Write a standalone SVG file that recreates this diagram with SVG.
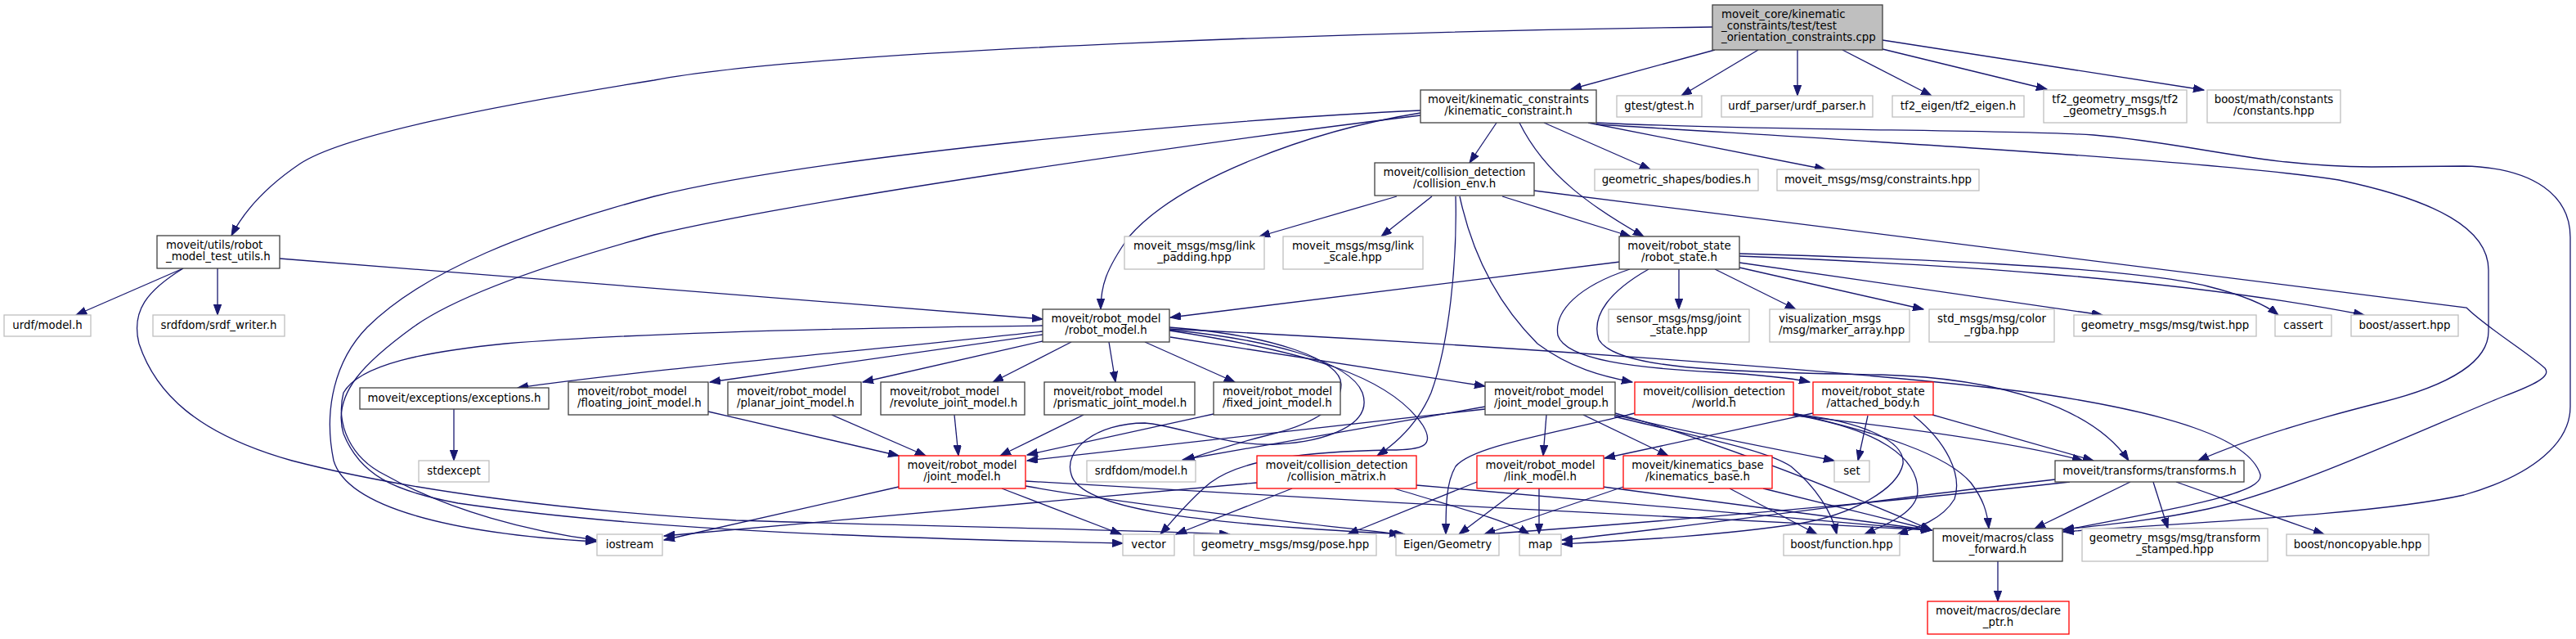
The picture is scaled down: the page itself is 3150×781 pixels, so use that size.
<svg xmlns="http://www.w3.org/2000/svg" width="3150" height="781" viewBox="0 0 3150 781">
<style>
.e{fill:none;stroke:#191970;stroke-width:1.3;marker-end:url(#ah)}
rect{stroke-width:1.3}
rect.n{fill:#fff;stroke:#404040}
rect.g{fill:#fff;stroke:#bfbfbf}
rect.r{fill:#fff;stroke:#ff0000}
rect.root{fill:#bfbfbf;stroke:#404040}
text{font-family:"DejaVu Sans",sans-serif;font-size:13.33px;fill:#000}
.c{text-anchor:middle}
</style>
<defs>
<marker id="ah" markerWidth="14" markerHeight="10" refX="13" refY="4.7" orient="auto" markerUnits="userSpaceOnUse"><path d="M0,0 L13,4.7 L0,9.4 z" fill="#191970" stroke="#191970" stroke-width="1"/></marker>
</defs>
<rect width="3150" height="781" fill="#fff"/>
<g id="edges">
<path class="e" d="M2097,61 L1921,109"/>
<path class="e" d="M2150,61 L2056,117"/>
<path class="e" d="M2198,61 L2198,117"/>
<path class="e" d="M2253,61 L2362,117"/>
<path class="e" d="M2302,60 L2503,109"/>
<path class="e" d="M2302,49 L2695,110"/>
<path class="e" d="M2094,33 C1700,38 1000,60 800,98 C600,130 420,165 367,200 C330,225 300,255 283,288"/>
<path class="e" d="M1830,150 L1797,199"/>
<path class="e" d="M1858,150 C1890,215 1950,255 2010,289"/>
<path class="e" d="M1888,150 L2018,207"/>
<path class="e" d="M1942,150 L2232,207"/>
<path class="e" d="M1952,152 C2200,168 2700,195 2860,220 C2980,245 3043,280 3043,330 L3043,405 C3043,440 3000,470 2911,492 C2820,515 2740,540 2688,563"/>
<path class="e" d="M1952,150 C2150,160 2450,158 2560,165 C2680,175 2760,203 2900,204 L3013,203 C3100,205 3143,240 3143,290 L3143,497 C3143,540 3100,580 3013,605 C2900,630 2650,640 2523,650"/>
<path class="e" d="M1737,138 C1600,160 1440,220 1380,290 C1352,330 1346,350 1346,378"/>
<path class="e" d="M1737,135 C1500,145 1000,190 800,240 C650,280 520,330 449,400 C410,440 395,500 408,563 C425,620 550,652 729,662"/>
<path class="e" d="M1737,141 C1500,170 1000,240 800,287 C680,320 560,360 505,400 C450,440 405,480 420,530 C440,580 480,600 560,615 C800,650 1100,658 1373,664"/>
<path class="e" d="M1708,240 L1540,289"/>
<path class="e" d="M1751,240 L1689,289"/>
<path class="e" d="M1837,240 L1994,289"/>
<path class="e" d="M1780,240 C1782,320 1772,420 1750,480 C1735,515 1710,540 1684,557"/>
<path class="e" d="M1785,240 C1800,310 1830,370 1880,420 C1920,450 1960,460 1996,467"/>
<path class="e" d="M1876,233 L3016,376 C3040,400 3090,430 3112,450 C3120,460 3100,470 3060,485 C2950,530 2800,600 2700,622 C2630,637 2570,642 2523,647"/>
<path class="e" d="M224,328 L93,385"/>
<path class="e" d="M266,328 L266,385"/>
<path class="e" d="M342,316 L1275,390"/>
<path class="e" d="M224,328 C180,355 160,380 170,420 C190,480 240,530 357,563 C500,600 700,625 900,636 C1200,645 1400,648 1504,653"/>
<path class="e" d="M1981,320 L1431,388"/>
<path class="e" d="M2053,329 L2053,378"/>
<path class="e" d="M2097,329 L2196,378"/>
<path class="e" d="M2127,327 L2352,378"/>
<path class="e" d="M2127,321 L2571,385"/>
<path class="e" d="M2127,310 C2300,315 2600,325 2700,350 C2740,360 2770,372 2786,385"/>
<path class="e" d="M2127,313 C2350,322 2650,338 2891,385"/>
<path class="e" d="M1993,329 C1930,350 1900,380 1905,410 C1915,440 2000,450 2100,455 C2150,458 2190,462 2213,467"/>
<path class="e" d="M2016,329 C1970,355 1945,385 1955,415 C1975,450 2100,455 2300,458 C2450,462 2560,500 2603,563"/>
<path class="e" d="M1275,405 C1100,425 800,450 633,474"/>
<path class="e" d="M1275,409 L868,467"/>
<path class="e" d="M1275,417 L1055,467"/>
<path class="e" d="M1310,418 L1214,467"/>
<path class="e" d="M1356,418 L1364,467"/>
<path class="e" d="M1400,418 L1510,467"/>
<path class="e" d="M1431,412 L1816,472"/>
<path class="e" d="M1275,398 C1100,400 800,405 618,420 C520,430 440,445 420,480 C410,520 430,560 470,580 C550,625 650,650 729,660"/>
<path class="e" d="M1430,402 C1800,420 2300,455 2500,482 C2650,505 2750,535 2764,580 C2768,600 2700,615 2523,648"/>
<path class="e" d="M1430,403 C1550,415 1650,440 1666,480 C1680,520 1620,540 1560,543 C1500,546 1440,520 1400,517 C1340,517 1300,550 1310,580 C1320,620 1450,640 1718,653"/>
<path class="e" d="M1430,404 C1600,430 1700,460 1740,520 C1755,545 1740,550 1700,550 C1600,552 1520,560 1480,590 C1455,610 1435,635 1419,653"/>
<path class="e" d="M1430,400 C1560,410 1640,440 1640,470 C1640,500 1600,520 1550,532 C1510,542 1480,552 1448,563"/>
<path class="e" d="M1891,507 L1887,557"/>
<path class="e" d="M1936,507 L2040,557"/>
<path class="e" d="M1974,507 C2050,525 2150,545 2243,563"/>
<path class="e" d="M1974,509 C2080,535 2160,550 2190,570 C2220,595 2240,625 2246,653"/>
<path class="e" d="M1816,500 L1256,563"/>
<path class="e" d="M1816,497 L1446,562"/>
<path class="e" d="M1975,505 C2100,540 2250,600 2362,648"/>
<path class="e" d="M1999,505 C1900,530 1800,545 1780,570 C1768,590 1768,620 1768,653"/>
<path class="e" d="M2193,506 C2280,515 2330,540 2327,567 C2320,600 2260,630 2200,640 C2100,655 2000,660 1910,665"/>
<path class="e" d="M2193,507 C2300,525 2345,560 2345,600 C2345,625 2310,640 2280,653"/>
<path class="e" d="M2187,507 C2350,525 2480,545 2547,563"/>
<path class="e" d="M2193,505 C2300,530 2380,555 2410,590 C2425,610 2430,625 2432,646"/>
<path class="e" d="M2217,505 L1962,560"/>
<path class="e" d="M2284,508 L2272,563"/>
<path class="e" d="M2340,508 C2380,540 2400,580 2390,610 C2375,635 2345,645 2320,653"/>
<path class="e" d="M2363,507 L2560,563"/>
<path class="e" d="M1858,597 L1784,653"/>
<path class="e" d="M1882,597 L1882,653"/>
<path class="e" d="M1960,595 L2362,648"/>
<path class="e" d="M1806,589 L1648,653"/>
<path class="e" d="M2115,597 L2222,653"/>
<path class="e" d="M2156,597 L2362,648"/>
<path class="e" d="M1985,595 L1815,653"/>
<path class="e" d="M1537,590 L812,655"/>
<path class="e" d="M1580,597 L1438,653"/>
<path class="e" d="M1705,597 C1780,620 1840,635 1870,653"/>
<path class="e" d="M1732,593 L2362,648"/>
<path class="e" d="M1099,595 L812,660"/>
<path class="e" d="M1225,597 L1371,653"/>
<path class="e" d="M1254,594 C1400,620 1600,640 1712,653"/>
<path class="e" d="M1254,588 C1600,610 2100,635 2362,648"/>
<path class="e" d="M866,503 L1099,557"/>
<path class="e" d="M1017,507 L1132,557"/>
<path class="e" d="M1167,507 L1172,557"/>
<path class="e" d="M1325,507 L1223,557"/>
<path class="e" d="M1484,506 L1256,556"/>
<path class="e" d="M555,500 L555,563"/>
<path class="e" d="M2605,589 L2488,646"/>
<path class="e" d="M2633,589 L2651,646"/>
<path class="e" d="M2661,589 L2842,653"/>
<path class="e" d="M2513,586 C2300,610 2100,640 1910,660"/>
<path class="e" d="M2531,589 C2300,615 2000,640 1815,653"/>
<path class="e" d="M2443,686 L2443,735"/>
</g>
<g id="n_root"><rect class="root" x="2094" y="6" width="208" height="55"/><text x="2105" y="22">moveit_core/kinematic</text><text x="2105" y="36">_constraints/test/test</text><text x="2105" y="50">_orientation_constraints.cpp</text></g>
<g id="n_kc"><rect class="n" x="1737" y="110" width="215" height="40"/><text class="c" x="1844.5" y="126">moveit/kinematic_constraints</text><text class="c" x="1844.5" y="140">/kinematic_constraint.h</text></g>
<g id="n_gtest"><rect class="g" x="1977" y="117" width="104" height="26"/><text class="c" x="2029" y="134">gtest/gtest.h</text></g>
<g id="n_urdfparser"><rect class="g" x="2105" y="117" width="185" height="26"/><text class="c" x="2197.5" y="134">urdf_parser/urdf_parser.h</text></g>
<g id="n_tf2eigen"><rect class="g" x="2314" y="117" width="161" height="26"/><text class="c" x="2394.5" y="134">tf2_eigen/tf2_eigen.h</text></g>
<g id="n_tf2geo"><rect class="g" x="2499" y="110" width="175" height="40"/><text class="c" x="2586.5" y="126">tf2_geometry_msgs/tf2</text><text class="c" x="2586.5" y="140">_geometry_msgs.h</text></g>
<g id="n_boostmath"><rect class="g" x="2699" y="110" width="163" height="40"/><text class="c" x="2780.5" y="126">boost/math/constants</text><text class="c" x="2780.5" y="140">/constants.hpp</text></g>
<g id="n_collenv"><rect class="n" x="1681" y="199" width="195" height="40"/><text class="c" x="1778.5" y="215">moveit/collision_detection</text><text class="c" x="1778.5" y="229">/collision_env.h</text></g>
<g id="n_bodies"><rect class="g" x="1950" y="207" width="200" height="26"/><text class="c" x="2050" y="224">geometric_shapes/bodies.h</text></g>
<g id="n_constraints"><rect class="g" x="2173" y="207" width="247" height="26"/><text class="c" x="2296.5" y="224">moveit_msgs/msg/constraints.hpp</text></g>
<g id="n_rmtu"><rect class="n" x="192" y="288" width="150" height="40"/><text x="203" y="304">moveit/utils/robot</text><text x="203" y="318">_model_test_utils.h</text></g>
<g id="n_linkpadding"><rect class="g" x="1375" y="289" width="171" height="40"/><text class="c" x="1460.5" y="305">moveit_msgs/msg/link</text><text class="c" x="1460.5" y="319">_padding.hpp</text></g>
<g id="n_linkscale"><rect class="g" x="1569" y="289" width="171" height="40"/><text class="c" x="1654.5" y="305">moveit_msgs/msg/link</text><text class="c" x="1654.5" y="319">_scale.hpp</text></g>
<g id="n_robotstate"><rect class="n" x="1980" y="289" width="147" height="40"/><text class="c" x="2053.5" y="305">moveit/robot_state</text><text class="c" x="2053.5" y="319">/robot_state.h</text></g>
<g id="n_urdfmodel"><rect class="g" x="5" y="385" width="106" height="26"/><text class="c" x="58" y="402">urdf/model.h</text></g>
<g id="n_srdfwriter"><rect class="g" x="187" y="385" width="161" height="26"/><text class="c" x="267.5" y="402">srdfdom/srdf_writer.h</text></g>
<g id="n_robotmodel"><rect class="n" x="1275" y="378" width="155" height="40"/><text class="c" x="1352.5" y="394">moveit/robot_model</text><text class="c" x="1352.5" y="408">/robot_model.h</text></g>
<g id="n_sensor"><rect class="g" x="1967" y="378" width="172" height="40"/><text class="c" x="2053" y="394">sensor_msgs/msg/joint</text><text class="c" x="2053" y="408">_state.hpp</text></g>
<g id="n_viz"><rect class="g" x="2164" y="378" width="171" height="40"/><text x="2175" y="394">visualization_msgs</text><text x="2175" y="408">/msg/marker_array.hpp</text></g>
<g id="n_color"><rect class="g" x="2359" y="378" width="153" height="40"/><text class="c" x="2435.5" y="394">std_msgs/msg/color</text><text class="c" x="2435.5" y="408">_rgba.hpp</text></g>
<g id="n_twist"><rect class="g" x="2536" y="385" width="223" height="26"/><text class="c" x="2647.5" y="402">geometry_msgs/msg/twist.hpp</text></g>
<g id="n_cassert"><rect class="g" x="2782" y="385" width="69" height="26"/><text class="c" x="2816.5" y="402">cassert</text></g>
<g id="n_boostassert"><rect class="g" x="2875" y="385" width="131" height="26"/><text class="c" x="2940.5" y="402">boost/assert.hpp</text></g>
<g id="n_exceptions"><rect class="n" x="440" y="474" width="231" height="26"/><text class="c" x="555.5" y="491">moveit/exceptions/exceptions.h</text></g>
<g id="n_floating"><rect class="n" x="695" y="467" width="171" height="40"/><text x="706" y="483">moveit/robot_model</text><text x="706" y="497">/floating_joint_model.h</text></g>
<g id="n_planar"><rect class="n" x="890" y="467" width="163" height="40"/><text x="901" y="483">moveit/robot_model</text><text x="901" y="497">/planar_joint_model.h</text></g>
<g id="n_revolute"><rect class="n" x="1077" y="467" width="176" height="40"/><text x="1088" y="483">moveit/robot_model</text><text x="1088" y="497">/revolute_joint_model.h</text></g>
<g id="n_prismatic"><rect class="n" x="1277" y="467" width="184" height="40"/><text x="1288" y="483">moveit/robot_model</text><text x="1288" y="497">/prismatic_joint_model.h</text></g>
<g id="n_fixed"><rect class="n" x="1484" y="467" width="155" height="40"/><text x="1495" y="483">moveit/robot_model</text><text x="1495" y="497">/fixed_joint_model.h</text></g>
<g id="n_jmg"><rect class="n" x="1816" y="467" width="159" height="40"/><text x="1827" y="483">moveit/robot_model</text><text x="1827" y="497">/joint_model_group.h</text></g>
<g id="n_world"><rect class="r" x="1999" y="467" width="194" height="40"/><text class="c" x="2096" y="483">moveit/collision_detection</text><text class="c" x="2096" y="497">/world.h</text></g>
<g id="n_attached"><rect class="r" x="2217" y="467" width="147" height="40"/><text class="c" x="2290.5" y="483">moveit/robot_state</text><text class="c" x="2290.5" y="497">/attached_body.h</text></g>
<g id="n_transforms"><rect class="n" x="2513" y="563" width="231" height="26"/><text class="c" x="2628.5" y="580">moveit/transforms/transforms.h</text></g>
<g id="n_stdexcept"><rect class="g" x="512" y="563" width="86" height="26"/><text class="c" x="555" y="580">stdexcept</text></g>
<g id="n_jointmodel"><rect class="r" x="1099" y="557" width="155" height="40"/><text class="c" x="1176.5" y="573">moveit/robot_model</text><text class="c" x="1176.5" y="587">/joint_model.h</text></g>
<g id="n_srdfmodel"><rect class="g" x="1329" y="563" width="133" height="26"/><text class="c" x="1395.5" y="580">srdfdom/model.h</text></g>
<g id="n_collmatrix"><rect class="r" x="1537" y="557" width="195" height="40"/><text class="c" x="1634.5" y="573">moveit/collision_detection</text><text class="c" x="1634.5" y="587">/collision_matrix.h</text></g>
<g id="n_linkmodel"><rect class="r" x="1806" y="557" width="155" height="40"/><text class="c" x="1883.5" y="573">moveit/robot_model</text><text class="c" x="1883.5" y="587">/link_model.h</text></g>
<g id="n_kinbase"><rect class="r" x="1985" y="557" width="182" height="40"/><text class="c" x="2076" y="573">moveit/kinematics_base</text><text class="c" x="2076" y="587">/kinematics_base.h</text></g>
<g id="n_set"><rect class="g" x="2243" y="563" width="43" height="26"/><text class="c" x="2264.5" y="580">set</text></g>
<g id="n_iostream"><rect class="g" x="730" y="653" width="80" height="26"/><text class="c" x="770" y="670">iostream</text></g>
<g id="n_vector"><rect class="g" x="1373" y="653" width="63" height="26"/><text class="c" x="1404.5" y="670">vector</text></g>
<g id="n_pose"><rect class="g" x="1460" y="653" width="223" height="26"/><text class="c" x="1571.5" y="670">geometry_msgs/msg/pose.hpp</text></g>
<g id="n_eigen"><rect class="g" x="1707" y="653" width="126" height="26"/><text class="c" x="1770" y="670">Eigen/Geometry</text></g>
<g id="n_map"><rect class="g" x="1858" y="653" width="51" height="26"/><text class="c" x="1883.5" y="670">map</text></g>
<g id="n_boostfunc"><rect class="g" x="2181" y="653" width="142" height="26"/><text class="c" x="2252" y="670">boost/function.hpp</text></g>
<g id="n_classfwd"><rect class="n" x="2364" y="646" width="158" height="40"/><text class="c" x="2443" y="662">moveit/macros/class</text><text class="c" x="2443" y="676">_forward.h</text></g>
<g id="n_tstamped"><rect class="g" x="2546" y="646" width="227" height="40"/><text class="c" x="2659.5" y="662">geometry_msgs/msg/transform</text><text class="c" x="2659.5" y="676">_stamped.hpp</text></g>
<g id="n_noncopyable"><rect class="g" x="2796" y="653" width="174" height="26"/><text class="c" x="2883" y="670">boost/noncopyable.hpp</text></g>
<g id="n_declareptr"><rect class="r" x="2357" y="735" width="173" height="40"/><text class="c" x="2443.5" y="751">moveit/macros/declare</text><text class="c" x="2443.5" y="765">_ptr.h</text></g>
</svg>
